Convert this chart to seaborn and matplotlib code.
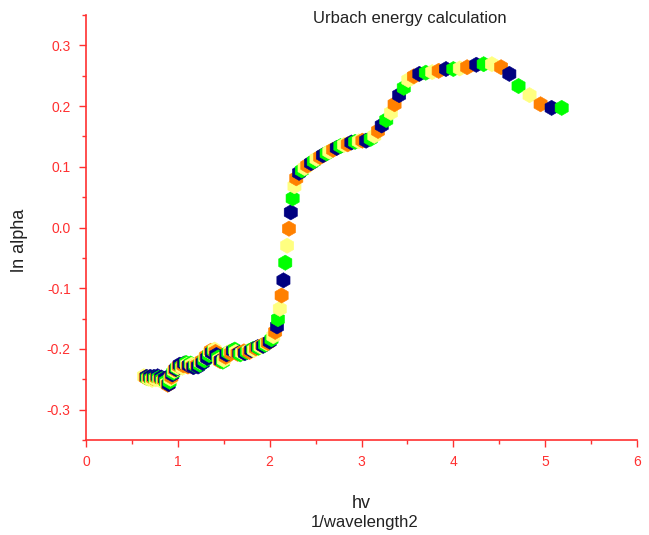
import matplotlib
matplotlib.use("Agg")
import matplotlib.pyplot as plt
from matplotlib.ticker import MultipleLocator
import seaborn as sns
import pandas as pd

# ---- data ----
hv = [
    0.63, 0.65, 0.66, 0.67, 0.68, 0.69, 0.70, 0.71, 0.72, 0.73, 0.74, 0.75,
    0.76, 0.77, 0.78, 0.79, 0.80, 0.81, 0.82, 0.83, 0.84, 0.85, 0.86, 0.87,
    0.88, 0.89, 0.90, 0.91, 0.92, 0.93, 0.94, 0.95, 0.96, 0.97, 0.98, 0.99,
    1.00,
    1.01, 1.02, 1.04, 1.05, 1.06, 1.07, 1.09, 1.10, 1.11, 1.12, 1.14, 1.15,
    1.16, 1.17, 1.19, 1.20, 1.21, 1.22, 1.24, 1.25, 1.26, 1.27, 1.29, 1.30,
    1.31, 1.32, 1.34, 1.35, 1.36, 1.37, 1.39, 1.40, 1.41, 1.42, 1.44, 1.45,
    1.46, 1.47, 1.49, 1.50,
    1.52, 1.53, 1.55, 1.57, 1.58, 1.60, 1.62, 1.63, 1.65, 1.67, 1.68, 1.70,
    1.72, 1.73, 1.75, 1.77, 1.78, 1.80, 1.82, 1.83, 1.85, 1.87, 1.88, 1.90,
    1.92, 1.93, 1.95, 1.97, 1.98, 2.00,
    2.02, 2.04, 2.06, 2.08, 2.09, 2.11, 2.13, 2.15, 2.17, 2.19, 2.21, 2.23,
    2.25, 2.27, 2.29, 2.32, 2.35, 2.38, 2.41, 2.45, 2.48, 2.51, 2.55, 2.58,
    2.62, 2.65, 2.69, 2.73, 2.77, 2.81, 2.85, 2.89, 2.93, 2.97, 3.01, 3.05,
    3.10, 3.14, 3.18, 3.22, 3.27, 3.32, 3.36, 3.41, 3.46, 3.51, 3.57, 3.63,
    3.70, 3.77, 3.84, 3.92, 4.00, 4.07, 4.15, 4.25, 4.33, 4.42, 4.52, 4.61,
    4.71, 4.83, 4.95, 5.07, 5.18,
]
ln_alpha = [
    -0.245, -0.247, -0.246, -0.248, -0.249, -0.247, -0.246, -0.249, -0.251, -0.248, -0.246, -0.248,
    -0.250, -0.247, -0.245, -0.248, -0.251, -0.249, -0.247, -0.250, -0.253, -0.251, -0.249, -0.254,
    -0.257, -0.259, -0.258, -0.254, -0.249, -0.246, -0.242, -0.239, -0.236, -0.234, -0.233, -0.231,
    -0.230,
    -0.228, -0.226, -0.229, -0.231, -0.227, -0.224, -0.223, -0.226, -0.229, -0.227, -0.224, -0.226,
    -0.229, -0.230, -0.227, -0.225, -0.227, -0.229, -0.226, -0.222, -0.220, -0.223, -0.219, -0.214,
    -0.212, -0.215, -0.210, -0.205, -0.203, -0.206, -0.203, -0.201, -0.205, -0.210, -0.214, -0.218,
    -0.220, -0.219, -0.221, -0.218,
    -0.213, -0.209, -0.206, -0.204, -0.207, -0.203, -0.201, -0.205, -0.208, -0.207, -0.209, -0.206,
    -0.204, -0.207, -0.205, -0.203, -0.205, -0.202, -0.200, -0.202, -0.199, -0.197, -0.198, -0.196,
    -0.194, -0.195, -0.193, -0.191, -0.190, -0.188,
    -0.184, -0.179, -0.172, -0.163, -0.151, -0.134, -0.112, -0.087, -0.058, -0.030, -0.002, 0.025,
    0.048, 0.068, 0.081, 0.090, 0.094, 0.098, 0.102, 0.106, 0.109, 0.113, 0.116, 0.119,
    0.122, 0.125, 0.128, 0.131, 0.134, 0.136, 0.137, 0.140, 0.141, 0.142, 0.143, 0.143,
    0.146, 0.151, 0.159, 0.168, 0.177, 0.189, 0.203, 0.218, 0.230, 0.243, 0.249, 0.253,
    0.255, 0.256, 0.258, 0.261, 0.261, 0.262, 0.264, 0.268, 0.269, 0.269, 0.264, 0.253,
    0.233, 0.218, 0.203, 0.197, 0.197,
]
x_ticks = [0, 1, 2, 3, 4, 5, 6]
y_ticks = [-0.3, -0.2, -0.1, 0.0, 0.1, 0.2, 0.3]

# colour cycle of the markers
marker_colors = ["#FFFF80", "#FF8000", "#000080", "#00FF00"]

df = pd.DataFrame({"hv": hv, "ln_alpha": ln_alpha})
df["grp"] = [str(i % 4) for i in range(len(df))]

sns.set_style("white")
plt.rcParams["font.family"] = ["Liberation Sans", "DejaVu Sans"]

fig = plt.figure(figsize=(6.49, 5.35), dpi=100)
ax = fig.add_axes([86 / 649, 1 - 440 / 535, 551 / 649, 425 / 535])

sns.scatterplot(data=df, x="hv", y="ln_alpha", hue="grp",
                palette={"0": marker_colors[0], "1": marker_colors[1],
                         "2": marker_colors[2], "3": marker_colors[3]},
                marker="h", s=120, linewidth=0.4, edgecolor="face",
                legend=False, ax=ax, zorder=3)

ax.set_xlim(0, 6)
ax.set_ylim(-0.35, 0.35)
ax.set_xticks(x_ticks)
ax.set_xticklabels([str(t) for t in x_ticks])
ax.set_yticks(y_ticks)
ax.set_yticklabels([f"{t:.1f}" for t in y_ticks])
ax.xaxis.set_minor_locator(MultipleLocator(0.5))
ax.yaxis.set_minor_locator(MultipleLocator(0.05))

red = "#FF3030"
for side in ["top", "right"]:
    ax.spines[side].set_visible(False)
for side in ["left", "bottom"]:
    ax.spines[side].set_color(red)
    ax.spines[side].set_linewidth(1.2)
ax.tick_params(which="major", direction="out", length=5, width=1, color=red,
               labelcolor=red, labelsize=10, pad=6, left=True, bottom=True)
ax.tick_params(which="minor", direction="out", length=3, width=1, color=red,
               left=True, bottom=True)

ax.set_xlabel("hv", fontsize=13, color="#222222")
ax.xaxis.set_label_coords(0.5, -0.13)
ax.set_ylabel("ln alpha", fontsize=13, color="#222222")
ax.yaxis.set_label_coords(-0.105, 0.47)

fig.text(410 / 649, 1 - 18 / 535, "Urbach energy calculation", ha="center",
         va="center", fontsize=12, color="#222222")
fig.text(365 / 649, 1 - 522 / 535, "1/wavelength2", ha="center", va="center",
         fontsize=12, color="#222222")

fig.savefig("out.png", dpi=100)
